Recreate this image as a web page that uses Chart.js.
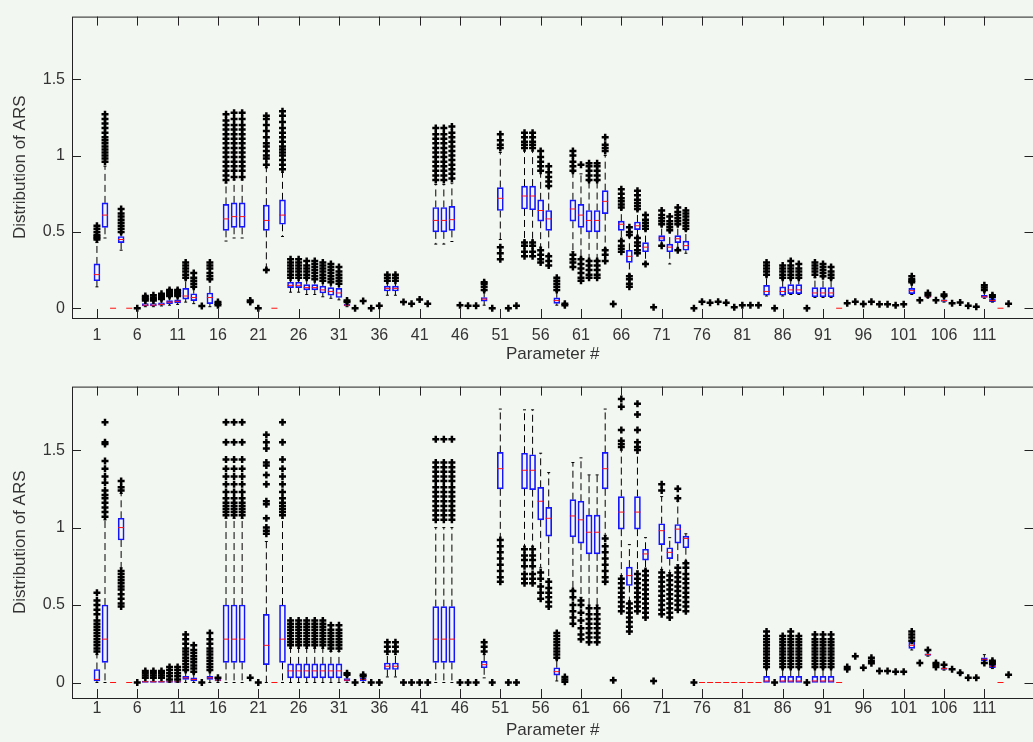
<!DOCTYPE html>
<html lang="en">
<head>
<meta charset="UTF-8">
<title>Distribution of ARS per parameter</title>
<script src="https://cdn.jsdelivr.net/npm/chart.js"></script>
<style>
    body {
        margin: 0;
        background: #f3f7f1;
        width: 1033px;
        height: 742px;
        overflow: hidden;
    }
    .panel {
        position: absolute;
        left: 0;
        width: 1033px;
        overflow: hidden;
    }
    .panel div {
        position: relative;
        width: 1040px;
        height: 100%;
    }
    #topPanel { top: 0; height: 370px; }
    #bottomPanel { top: 370px; height: 372px; }
</style>
<script>
    // x tick labels and y ticks shared by both panels
    const xTicks = [1, 6, 11, 16, 21, 26, 31, 36, 41, 46, 51, 56, 61, 66, 71, 76, 81, 86, 91, 96, 101, 106, 111];
    const yTicks = [0, 0.5, 1, 1.5];

    // ---- top panel: box statistics (parameter, lower whisker, q1, median, q3, upper whisker)
    const topBoxParam = [1, 2, 3, 4, 5, 7, 8, 9, 10, 11,
        12, 13, 15, 17, 18, 19, 22, 23, 24, 25,
        26, 27, 28, 29, 30, 31, 32, 37, 38, 43,
        44, 45, 49, 51, 54, 55, 56, 57, 58, 60,
        61, 62, 63, 64, 66, 67, 68, 69, 71, 72,
        73, 74, 84, 86, 87, 88, 90, 91, 92, 93,
        102, 104, 106, 111, 112, 113];
    const topLow = [.14, .46, 0, .38, 0, .01, .01, .015, .02, .025,
        .04, .03, .01, .44, .46, .46, .26, 0, .47, .105,
        .105, .09, .09, .075, .065, .055, .01, .085, .085, .42,
        .42, .437, .02, .45, .44, .44, .4, .35, .02, .37,
        .33, .32, .32, .39, .45, .22, .47, .3, .42, .29,
        .39, .36, .08, .08, .09, .09, .07, .07, .07, 0,
        .09, .07, .04, .065, .04, 0];
    const topQ1 = [.18, .53, 0, .43, 0, .015, .015, .02, .03, .035,
        .06, .05, .03, .51, .53, .53, .51, 0, .55, .135,
        .135, .12, .12, .1, .085, .07, .015, .113, .113, .5,
        .5, .51, .047, .64, .65, .645, .57, .51, .032, .57,
        .53, .5, .5, .62, .51, .3, .515, .37, .44, .37,
        .43, .38, .085, .085, .096, .096, .075, .075, .075, 0,
        .096, .073, .045, .07, .043, 0];
    const topMedian = [.22, .61, 0, .45, 0, .02, .02, .025, .04, .045,
        .08, .07, .07, .585, .6, .6, .575, 0, .61, .15,
        .15, .135, .135, .12, .11, .1, .02, .13, .13, .575,
        .575, .58, .06, .72, .735, .735, .64, .585, .05, .65,
        .61, .575, .575, .7, .55, .34, .54, .4, .46, .4,
        .455, .41, .11, .11, .12, .12, .1, .1, .1, 0,
        .115, .075, .05, .075, .05, 0];
    const topQ3 = [.29, .69, 0, .47, 0, .03, .03, .035, .05, .055,
        .13, .095, .1, .68, .69, .69, .675, 0, .71, .17,
        .17, .155, .155, .145, .135, .13, .025, .145, .145, .66,
        .66, .667, .07, .79, .8, .8, .71, .64, .068, .71,
        .68, .64, .64, .77, .57, .38, .565, .43, .475, .42,
        .475, .44, .15, .14, .155, .155, .135, .135, .135, 0,
        .13, .08, .055, .085, .064, 0];
    const topHigh = [.43, .93, 0, .49, 0, .05, .055, .06, .07, .075,
        .19, .13, .18, .82, .84, .84, .92, 0, .89, .2,
        .2, .19, .19, .18, .17, .16, .03, .175, .175, .81,
        .81, .82, .11, 1.02, 1.03, 1.03, .9, .79, .11, .89,
        .88, .83, .83, 1.0, .65, .47, .64, .51, .54, .5,
        .54, .51, .21, .19, .19, .19, .2, .2, .19, 0,
        .16, .08, .07, .11, .07, 0];

    // top panel outliers: [parameter, values]
    const topOutliers = [
        [1, [.45, .46, .47, .48, .5, .52, .54]],
        [2, [.96, .98, 1.0, 1.02, 1.04, 1.06, 1.08, 1.1, 1.12, 1.15, 1.18, 1.21, 1.24, 1.27]],
        [4, [.5, .52, .54, .56, .58, .6, .62, .65]],
        [6, [0]],
        [7, [.05, .06, .07, .08]],
        [8, [.05, .06, .07, .085]],
        [9, [.06, .07, .08, .095]],
        [10, [.08, .09, .1, .11, .12]],
        [11, [.08, .09, .1, .11, .12]],
        [12, [.2, .22, .24, .26, .28, .3]],
        [13, [.14, .16, .18, .2, .23]],
        [14, [.015]],
        [15, [.19, .21, .23, .26, .28, .3]],
        [16, [.02, .03, .04]],
        [17, [.84, .87, .9, .93, .96, .99, 1.02, 1.05, 1.08, 1.11, 1.14, 1.17, 1.2, 1.23, 1.27]],
        [18, [.86, .9, .93, .96, .99, 1.02, 1.05, 1.08, 1.11, 1.14, 1.17, 1.2, 1.24, 1.28]],
        [19, [.86, .9, .93, .96, .99, 1.02, 1.05, 1.08, 1.11, 1.14, 1.17, 1.2, 1.24, 1.28]],
        [20, [.04, .05]],
        [21, [0]],
        [22, [.25, .94, .98, 1.0, 1.03, 1.06, 1.08, 1.12, 1.16, 1.2, 1.24, 1.26]],
        [24, [.91, .94, .97, 1.0, 1.02, 1.04, 1.06, 1.09, 1.12, 1.15, 1.18, 1.22, 1.26, 1.29]],
        [25, [.2, .22, .24, .26, .28, .3, .32]],
        [26, [.2, .22, .24, .26, .28, .3, .32]],
        [27, [.2, .22, .24, .26, .28, .31]],
        [28, [.19, .21, .23, .25, .27, .29, .31]],
        [29, [.18, .2, .22, .24, .26, .28, .3]],
        [30, [.17, .19, .21, .23, .25, .27, .29]],
        [31, [.16, .18, .2, .22, .24, .27]],
        [32, [.04, .05]],
        [33, [0]],
        [34, [.047]],
        [35, [0]],
        [36, [.017]],
        [37, [.18, .2, .22]],
        [38, [.18, .2, .22]],
        [39, [.04]],
        [40, [.03]],
        [41, [.057]],
        [42, [.03]],
        [43, [.84, .87, .9, .93, .96, .99, 1.02, 1.05, 1.08, 1.11, 1.14, 1.18]],
        [44, [.84, .87, .9, .93, .96, .99, 1.02, 1.05, 1.08, 1.11, 1.14, 1.18]],
        [45, [.85, .88, .91, .94, .97, 1.0, 1.03, 1.06, 1.09, 1.12, 1.15, 1.19]],
        [46, [.02]],
        [47, [.017]],
        [48, [.017]],
        [49, [.12, .14, .16, .17]],
        [50, [0]],
        [51, [.32, .36, .4, 1.05, 1.07, 1.1, 1.14]],
        [52, [0]],
        [53, [.017]],
        [54, [.34, .37, .41, .43, 1.05, 1.07, 1.09, 1.12, 1.15]],
        [55, [.34, .37, .41, .43, 1.05, 1.07, 1.09, 1.12, 1.15]],
        [56, [.3, .32, .35, .38, .9, .93, .96, .99, 1.03]],
        [57, [.28, .31, .34, .8, .83, .86, .89, .93]],
        [58, [.12, .14, .16, .18, .2]],
        [59, [.02, .03]],
        [60, [.27, .3, .32, .35, .9, .93, .96, 1.0, 1.03]],
        [61, [.18, .2, .23, .26, .29, .32, .94]],
        [62, [.2, .22, .25, .28, .31, .84, .87, .9, .93, .95]],
        [63, [.2, .22, .25, .28, .31, .84, .87, .9, .93, .95]],
        [64, [.31, .35, .38, 1.03, 1.05, 1.07, 1.12]],
        [65, [.028]],
        [66, [.37, .39, .41, .44, .66, .68, .7, .72, .75, .78]],
        [67, [.14, .16, .19, .21, .48, .5, .53]],
        [68, [.36, .38, .41, .43, .46, .65, .67, .69, .71, .74, .77]],
        [69, [.29, .52, .54, .56, .58, .61]],
        [70, [.006]],
        [71, [.41, .55, .57, .59, .61, .64]],
        [72, [.51, .53, .55, .57, .6]],
        [73, [.38, .55, .57, .59, .61, .63, .66]],
        [74, [.52, .54, .56, .58, .6, .62, .64]],
        [75, [0]],
        [76, [.043]],
        [77, [.036]],
        [78, [.043]],
        [79, [.036]],
        [80, [.006]],
        [81, [.02]],
        [82, [.02]],
        [83, [.02]],
        [84, [.22, .24, .26, .28, .3]],
        [85, [0]],
        [86, [.2, .22, .24, .26, .28]],
        [87, [.2, .22, .24, .26, .28, .31]],
        [88, [.2, .22, .24, .26, .29]],
        [89, [0]],
        [90, [.22, .24, .26, .28, .3]],
        [91, [.21, .23, .25, .27, .29]],
        [92, [.2, .22, .24, .27]],
        [94, [.032]],
        [95, [.043]],
        [96, [.028]],
        [97, [.043]],
        [98, [.026]],
        [99, [.026]],
        [100, [.02]],
        [101, [.026]],
        [102, [.17, .18, .19, .21]],
        [103, [.053]],
        [104, [.085, .1]],
        [105, [.053]],
        [106, [.08, .09]],
        [107, [.032]],
        [108, [.038]],
        [109, [.017]],
        [110, [.01]],
        [111, [.12, .135, .15]],
        [112, [.075, .085]],
        [114, [.03]]
    ];

    // ---- bottom panel: box statistics
    const bottomBoxParam = [1, 2, 3, 4, 5, 7, 8, 9, 10, 11,
        12, 13, 15, 16, 17, 18, 19, 22, 23, 24,
        25, 26, 27, 28, 29, 30, 31, 32, 34, 37,
        38, 43, 44, 45, 49, 51, 54, 55, 56, 57,
        58, 60, 61, 62, 63, 64, 66, 67, 68, 69,
        71, 72, 73, 74, 76, 77, 78, 79, 80, 81,
        82, 83, 84, 86, 87, 88, 90, 91, 92, 93,
        102, 104, 106, 108, 111, 112, 113];
    const bottomLow = [0, 0, 0, .74, 0, 0, 0, 0, 0, 0,
        0, 0, 0, 0, 0, 0, 0, 0, 0, 0,
        0, 0, 0, 0, 0, 0, 0, 0, 0, .036,
        .036, 0, 0, 0, .03, .92, .88, .88, .74, .67,
        .01, .6, .55, .5, .5, .95, .69, .52, .72, .73,
        .73, .71, .76, .78, 0, 0, 0, 0, 0, 0,
        0, 0, 0, 0, 0, 0, 0, 0, 0, 0,
        .21, .17, .08, .05, .13, .09, 0];
    const bottomQ1 = [.01, .13, 0, .92, 0, 0, 0, 0, 0, 0,
        .02, .01, .02, .01, .13, .13, .13, .115, 0, .13,
        .03, .03, .03, .03, .03, .03, .03, .01, .01, .084,
        .084, .13, .13, .13, .095, 1.25, 1.25, 1.245, 1.05, .945,
        .048, .94, .9, .83, .83, 1.25, .99, .626, .99, .79,
        .89, .8, .9, .87, 0, 0, 0, 0, 0, 0,
        0, 0, 0, 0, 0, 0, 0, 0, 0, 0,
        .22, .175, .085, .055, .14, .095, 0];
    const bottomMedian = [.02, .28, 0, 1.0, 0, .005, .005, .005, .005, .005,
        .03, .02, .03, .015, .28, .28, .28, .24, 0, .28,
        .075, .075, .075, .075, .075, .075, .075, .015, .02, .105,
        .105, .28, .28, .28, .115, 1.38, 1.37, 1.37, 1.17, 1.06,
        .07, 1.075, 1.05, .97, .97, 1.38, 1.1, .69, 1.1, .83,
        .98, .84, .99, .93, 0, 0, 0, 0, 0, 0,
        0, 0, .01, .01, .01, .01, .01, .01, .01, 0,
        .24, .18, .09, .06, .15, .105, 0];
    const bottomQ3 = [.084, .5, 0, 1.06, 0, .01, .01, .01, .01, .01,
        .04, .03, .04, .02, .5, .5, .5, .44, 0, .5,
        .12, .12, .12, .12, .12, .12, .12, .025, .03, .126,
        .126, .49, .49, .49, .136, 1.485, 1.48, 1.47, 1.26, 1.13,
        .095, 1.18, 1.17, 1.08, 1.08, 1.485, 1.2, .745, 1.2, .86,
        1.025, .87, 1.02, .945, 0, 0, 0, 0, 0, 0,
        0, 0, .04, .04, .04, .04, .04, .04, .04, 0,
        .26, .185, .095, .065, .16, .115, 0];
    const bottomHigh = [.18, 1.05, 0, 1.22, 0, .025, .025, .025, .025, .025,
        .07, .06, .07, .03, 1.06, 1.06, 1.06, .91, 0, 1.06,
        .22, .22, .22, .22, .22, .2, .2, .04, .04, .18,
        .18, 1.0, 1.0, 1.0, .18, 1.765, 1.76, 1.76, 1.48, 1.355,
        .15, 1.42, 1.45, 1.34, 1.34, 1.765, 1.5, .89, 1.48, .935,
        1.2, .935, 1.17, .96, 0, 0, 0, 0, 0, 0,
        0, 0, .09, .09, .09, .09, .09, .09, .09, 0,
        .27, .2, .1, .07, .18, .12, 0];

    const bottomOutliers = [
        [1, [.2, .22, .24, .26, .28, .3, .32, .34, .36, .38, .4, .44, .47, .5, .53, .58]],
        [2, [1.07, 1.1, 1.13, 1.16, 1.19, 1.21, 1.24, 1.29, 1.33, 1.38, 1.43, 1.54, 1.55, 1.68]],
        [4, [.49, .51, .54, .57, .6, .62, .64, .66, .68, .7, .72, 1.24, 1.26, 1.3]],
        [6, [0]],
        [7, [.03, .045, .06, .075]],
        [8, [.03, .045, .06, .075]],
        [9, [.03, .045, .06, .075]],
        [10, [.02, .04, .06, .08, .1]],
        [11, [.02, .04, .06, .08, .1]],
        [12, [.08, .1, .12, .14, .16, .18, .2, .22, .25, .28, .31]],
        [13, [.07, .09, .11, .13, .15, .17, .19, .21, .24]],
        [14, [0]],
        [15, [.08, .1, .12, .14, .16, .18, .2, .22, .25, .28, .32]],
        [16, [.03]],
        [17, [1.08, 1.1, 1.12, 1.14, 1.16, 1.19, 1.23, 1.28, 1.33, 1.38, 1.44, 1.55, 1.68]],
        [18, [1.08, 1.1, 1.12, 1.14, 1.16, 1.19, 1.23, 1.28, 1.33, 1.38, 1.44, 1.55, 1.68]],
        [19, [1.08, 1.1, 1.12, 1.14, 1.16, 1.19, 1.23, 1.28, 1.33, 1.38, 1.44, 1.55, 1.68]],
        [20, [.03]],
        [21, [0]],
        [22, [.96, .98, 1.0, 1.06, 1.15, 1.17, 1.28, 1.34, 1.4, 1.42, 1.51, 1.55, 1.6]],
        [24, [1.08, 1.1, 1.12, 1.14, 1.16, 1.19, 1.23, 1.28, 1.33, 1.38, 1.44, 1.55, 1.68]],
        [25, [.24, .26, .28, .3, .32, .34, .36, .38, .4]],
        [26, [.24, .26, .28, .3, .32, .34, .36, .38, .4]],
        [27, [.24, .26, .28, .3, .32, .34, .36, .38, .4]],
        [28, [.24, .26, .28, .3, .32, .34, .36, .38, .4]],
        [29, [.24, .26, .28, .3, .32, .34, .36, .38, .4]],
        [30, [.22, .24, .26, .28, .3, .32, .34, .37]],
        [31, [.22, .24, .26, .28, .3, .32, .34, .37]],
        [32, [.05, .06]],
        [33, [0]],
        [34, [.04, .05]],
        [35, [0]],
        [36, [0]],
        [37, [.2, .23, .26]],
        [38, [.2, .23, .26]],
        [39, [0]],
        [40, [0]],
        [41, [0]],
        [42, [0]],
        [43, [1.05, 1.08, 1.11, 1.14, 1.17, 1.2, 1.23, 1.26, 1.3, 1.33, 1.36, 1.39, 1.42, 1.57]],
        [44, [1.05, 1.08, 1.11, 1.14, 1.17, 1.2, 1.23, 1.26, 1.3, 1.33, 1.36, 1.39, 1.42, 1.57]],
        [45, [1.05, 1.08, 1.11, 1.14, 1.17, 1.2, 1.23, 1.26, 1.3, 1.33, 1.36, 1.39, 1.42, 1.57]],
        [46, [0]],
        [47, [0]],
        [48, [0]],
        [49, [.2, .23, .26]],
        [50, [0]],
        [51, [.65, .68, .72, .76, .8, .84, .88, .92]],
        [52, [0]],
        [53, [0]],
        [54, [.64, .67, .7, .75, .79, .82, .86]],
        [55, [.64, .67, .7, .75, .79, .82, .86]],
        [56, [.54, .58, .62, .67, .71]],
        [57, [.49, .52, .55, .58, .61, .65]],
        [58, [.16, .18, .2, .22, .24, .26, .28, .3, .32]],
        [59, [.005, .02, .035]],
        [60, [.38, .42, .46, .5, .55, .59]],
        [61, [.28, .31, .35, .4, .45, .5, .53]],
        [62, [.26, .29, .32, .35, .38, .41, .44, .48]],
        [63, [.26, .29, .32, .35, .38, .41, .44, .48]],
        [64, [.65, .68, .72, .76, .8, .84, .88, .93]],
        [65, [.015]],
        [66, [.46, .49, .52, .55, .58, .61, .64, .67, 1.52, 1.54, 1.56, 1.63, 1.78, 1.83]],
        [67, [.33, .36, .39, .42, .45, .48, .51]],
        [68, [.46, .49, .52, .55, .58, .61, .64, .67, .7, 1.5, 1.52, 1.55, 1.63, 1.73, 1.8]],
        [69, [.42, .45, .48, .51, .54, .57, .6, .63, .66, .69, .72]],
        [70, [.01]],
        [71, [.44, .47, .5, .53, .56, .59, .62, .65, .68, .71, 1.24, 1.28]],
        [72, [.42, .45, .48, .51, .54, .57, .6, .63, .66, .69]],
        [73, [.47, .5, .53, .56, .59, .62, .65, .68, .71, .74, 1.19, 1.25]],
        [74, [.46, .49, .52, .55, .58, .61, .64, .67, .7, .74, .77]],
        [75, [0]],
        [84, [.1, .12, .14, .16, .18, .2, .22, .24, .26, .28, .3, .33]],
        [85, [0]],
        [86, [.1, .12, .14, .16, .18, .2, .22, .24, .26, .28, .3]],
        [87, [.1, .12, .14, .16, .18, .2, .22, .24, .26, .28, .3, .33]],
        [88, [.1, .12, .14, .16, .18, .2, .22, .24, .26, .28, .3]],
        [89, [0]],
        [90, [.1, .12, .14, .16, .18, .2, .22, .24, .26, .28, .31]],
        [91, [.1, .12, .14, .16, .18, .2, .22, .24, .26, .28, .31]],
        [92, [.1, .12, .14, .16, .18, .2, .22, .24, .26, .28, .31]],
        [94, [.085, .1]],
        [95, [.17]],
        [96, [.095]],
        [97, [.125, .14, .16]],
        [98, [.075]],
        [99, [.075]],
        [100, [.07]],
        [101, [.07]],
        [102, [.27, .29, .31, .33]],
        [103, [.126]],
        [104, [.21]],
        [105, [.1, .115, .126]],
        [106, [.115]],
        [107, [.085]],
        [108, [.063]],
        [109, [.03]],
        [110, [.03]],
        [111, [.126]],
        [112, [.12, .13, .14]],
        [114, [.05]]
    ];

    const textColor = '#333';

    // MATLAB style frame with inward tick marks on all four sides
    const framePlugin = {
        id: 'frame',
        afterDraw(chart) {
            const ctx = chart.ctx;
            const a = chart.chartArea;
            const x = chart.scales.x;
            const y = chart.scales.y;
            ctx.save();
            ctx.strokeStyle = '#222';
            ctx.lineWidth = 1;
            ctx.strokeRect(a.left + 0.5, a.top + 0.5, a.right - a.left, a.bottom - a.top);
            ctx.beginPath();
            x.ticks.forEach(t => {
                const px = Math.round(x.getPixelForValue(t.value)) + 0.5;
                ctx.moveTo(px, a.bottom);
                ctx.lineTo(px, a.bottom - 9);
                ctx.moveTo(px, a.top);
                ctx.lineTo(px, a.top + 9);
            });
            y.ticks.forEach(t => {
                const py = Math.round(y.getPixelForValue(t.value)) + 0.5;
                ctx.moveTo(a.left, py);
                ctx.lineTo(a.left + 9, py);
                ctx.moveTo(a.right, py);
                ctx.lineTo(a.right - 9, py);
            });
            ctx.stroke();
            ctx.restore();
        }
    };

    function makePanel(id, p) {
        const boxes = p.param.map((x, i) => ({ x: x, y: [p.q1[i], p.q3[i]] }));
        const medians = p.param.map((x, i) => ({ x: x, y: p.med[i] }));
        const whiskers = [];
        const caps = [];
        p.param.forEach((x, i) => {
            if (p.hi[i] > p.q3[i]) {
                whiskers.push({ x: x, y: p.q3[i] }, { x: x, y: p.hi[i] }, { x: x, y: null });
                caps.push({ x: x, y: p.hi[i] });
            }
            if (p.lo[i] < p.q1[i]) {
                whiskers.push({ x: x, y: p.q1[i] }, { x: x, y: p.lo[i] }, { x: x, y: null });
                caps.push({ x: x, y: p.lo[i] });
            }
        });
        const outliers = [];
        p.out.forEach(([x, vals]) => vals.forEach(v => outliers.push({ x: x, y: v })));

        new Chart(document.getElementById(id), {
            type: 'bar',
            data: {
                datasets: [
                    {
                        type: 'line', data: whiskers, order: 5,
                        borderColor: '#000', borderWidth: 1, borderDash: [7, 4],
                        pointRadius: 0, spanGaps: false, fill: false
                    },
                    {
                        type: 'bar', data: boxes, order: 4,
                        backgroundColor: 'rgba(0,0,0,0)', borderColor: '#1414ff',
                        borderWidth: 1, borderSkipped: false, barThickness: 6, grouped: false
                    },
                    {
                        type: 'scatter', data: medians, order: 3,
                        pointStyle: 'line', pointRadius: 3, borderColor: '#ff1010', borderWidth: 1
                    },
                    {
                        type: 'scatter', data: caps, order: 2,
                        pointStyle: 'line', pointRadius: 1.5, borderColor: '#000', borderWidth: 1
                    },
                    {
                        type: 'scatter', data: outliers, order: 1,
                        pointStyle: 'cross', pointRadius: 3.5, borderColor: '#000',
                        backgroundColor: '#000', borderWidth: 2.5
                    }
                ]
            },
            options: {
                responsive: true,
                maintainAspectRatio: false,
                animation: false,
                events: [],
                layout: { padding: { top: p.padTop, right: 3, left: 0, bottom: 0 } },
                plugins: { legend: { display: false }, tooltip: { enabled: false } },
                scales: {
                    x: {
                        type: 'linear', min: 0.5, max: 114.5,
                        grid: { display: false, drawTicks: false },
                        border: { display: false },
                        afterBuildTicks: axis => { axis.ticks = xTicks.map(v => ({ value: v })); },
                        afterFit: axis => { axis.height = p.xHeight; },
                        ticks: {
                            autoSkip: false, maxRotation: 0, padding: p.xTickPad,
                            color: textColor, font: { family: 'Liberation Sans', size: 16 }
                        },
                        title: {
                            display: true, text: 'Parameter #', color: textColor,
                            font: { family: 'Liberation Sans', size: 17 },
                            padding: { top: 0, bottom: p.xTitlePad }
                        }
                    },
                    y: {
                        min: p.yMin, max: p.yMax,
                        grid: { display: false, drawTicks: false },
                        border: { display: false },
                        afterBuildTicks: axis => { axis.ticks = yTicks.map(v => ({ value: v })); },
                        afterFit: axis => { axis.width = 72; },
                        ticks: {
                            padding: 7, color: textColor,
                            font: { family: 'Liberation Sans', size: 16 },
                            callback: v => String(v)
                        },
                        title: {
                            display: true, text: 'Distribution of ARS', color: textColor,
                            font: { family: 'Liberation Sans', size: 17 },
                            padding: { top: 10, bottom: 0 }
                        }
                    }
                }
            },
            plugins: [framePlugin]
        });
    }

    window.addEventListener('load', () => {
        makePanel('topChart', {
            param: topBoxParam, lo: topLow, q1: topQ1, med: topMedian, q3: topQ3, hi: topHigh,
            out: topOutliers, yMin: -0.064, yMax: 1.91,
            padTop: 10, xHeight: 52, xTickPad: 8, xTitlePad: 5
        });
        makePanel('bottomChart', {
            param: bottomBoxParam, lo: bottomLow, q1: bottomQ1, med: bottomMedian, q3: bottomQ3, hi: bottomHigh,
            out: bottomOutliers, yMin: -0.1, yMax: 1.91,
            padTop: 9, xHeight: 44, xTickPad: 1, xTitlePad: 1
        });
    });
</script>
</head>
<body>
    <div class="panel" id="topPanel"><div><canvas id="topChart"></canvas></div></div>
    <div class="panel" id="bottomPanel"><div><canvas id="bottomChart"></canvas></div></div>
</body>
</html>
